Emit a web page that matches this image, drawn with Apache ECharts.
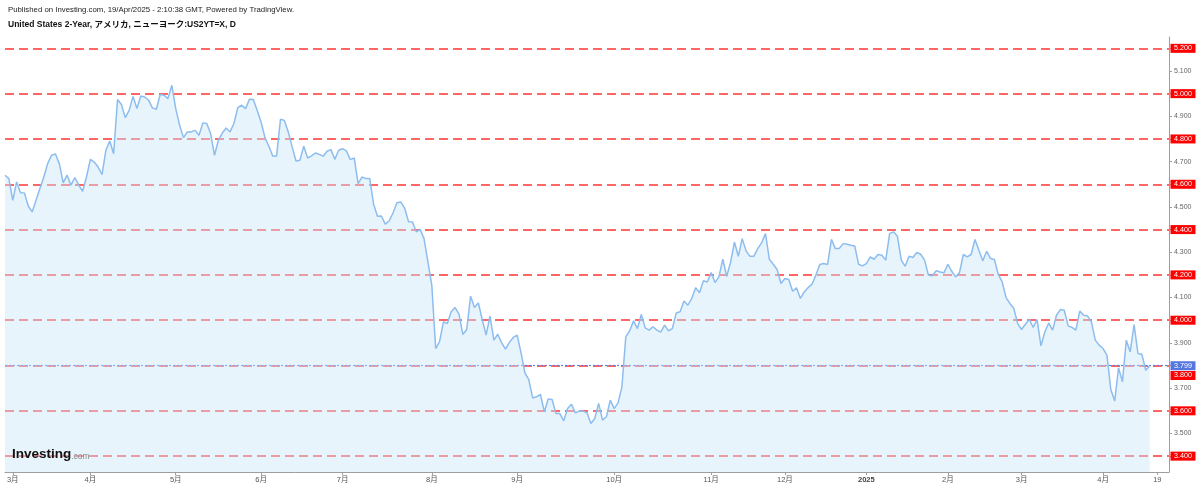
<!DOCTYPE html>
<html><head><meta charset="utf-8">
<script src="https://cdn.jsdelivr.net/npm/echarts@6/dist/echarts.min.js"></script>
<style>html,body{margin:0;padding:0;background:#fff}#c{width:1200px;height:487px}</style>
</head><body><div id="c"></div>
<script>
// Daily US 2-year yield (%)
const yields = [
4.640,4.625,4.529,4.610,4.563,4.562,4.504,4.478,4.529,4.581,
4.632,4.691,4.728,4.734,4.691,4.606,4.640,4.596,4.630,4.596,
4.569,4.632,4.710,4.698,4.676,4.643,4.750,4.791,4.735,4.974,
4.952,4.894,4.926,4.988,4.934,4.990,4.985,4.971,4.937,4.931,
4.996,4.993,4.978,5.037,4.934,4.860,4.806,4.831,4.831,4.838,
4.816,4.871,4.868,4.824,4.728,4.794,4.826,4.848,4.831,4.868,
4.938,4.949,4.934,4.975,4.974,4.926,4.875,4.806,4.768,4.725,
4.725,4.887,4.882,4.831,4.765,4.703,4.706,4.768,4.716,4.725,
4.738,4.732,4.724,4.746,4.753,4.710,4.750,4.757,4.747,4.709,
4.716,4.603,4.632,4.625,4.625,4.512,4.459,4.460,4.424,4.438,
4.473,4.518,4.522,4.495,4.435,4.434,4.390,4.401,4.360,4.257,
4.155,3.875,3.905,3.993,3.985,4.037,4.056,4.027,3.937,3.959,
4.106,4.056,4.076,4.003,3.934,4.018,3.912,3.938,3.900,3.872,
3.902,3.924,3.934,3.856,3.768,3.738,3.657,3.662,3.672,3.596,
3.652,3.650,3.588,3.588,3.556,3.610,3.629,3.591,3.599,3.599,
3.591,3.544,3.566,3.633,3.559,3.574,3.647,3.610,3.635,3.706,
3.927,3.953,3.997,3.963,4.025,3.966,3.956,3.971,3.956,3.947,
3.978,3.953,3.963,4.032,4.037,4.085,4.066,4.096,4.143,4.121,
4.174,4.169,4.210,4.166,4.191,4.269,4.194,4.255,4.345,4.282,
4.360,4.306,4.282,4.282,4.316,4.341,4.382,4.269,4.247,4.224,
4.162,4.184,4.180,4.128,4.143,4.096,4.125,4.144,4.159,4.199,
4.246,4.250,4.246,4.357,4.316,4.316,4.338,4.335,4.331,4.328,
4.247,4.240,4.250,4.279,4.269,4.290,4.287,4.265,4.382,4.390,
4.371,4.265,4.238,4.282,4.277,4.299,4.291,4.265,4.199,4.196,
4.218,4.213,4.209,4.247,4.216,4.191,4.210,4.290,4.279,4.290,
4.356,4.309,4.262,4.304,4.272,4.268,4.202,4.169,4.100,4.074,
4.052,3.985,3.959,3.982,4.004,3.968,4.003,3.887,3.948,3.988,
3.956,4.022,4.047,4.044,3.975,3.968,3.956,4.040,4.022,4.019,
3.993,3.912,3.890,3.875,3.846,3.694,3.643,3.790,3.728,3.912,
3.860,3.981,3.853,3.850,3.779,3.799
];
// x-axis tick labels and the bar index where each sits
const monthLabels = ['3月','4月','5月','6月','7月','8月','9月','10月','11月','12月','2025','2月','3月','4月','19'];
const monthIndex  = [2,22,44,66,87,110,132,157,182,201,222,243,262,283,297];
const categoryCount = 301;
// horizontal red levels
const levels = [3.4,3.6,3.8,4.0,4.2,4.4,4.6,4.8,5.0,5.2];
const lastPrice = 3.799;
// y-axis ticks / labels
const yTickValues = [3.4,3.5,3.6,3.7,3.8,3.9,4.0,4.1,4.2,4.3,4.4,4.5,4.6,4.7,4.8,4.9,5.0,5.1,5.2];
const yLabelValues = [3.5,3.7,3.9,4.1,4.3,4.5,4.7,4.9,5.1];

const categories = Array.from({length: categoryCount}, (_, i) => String(i));
const labelMap = new Map(monthIndex.map((idx, k) => [idx, monthLabels[k]]));
const lastCat = categories[categoryCount - 1];

const chart = echarts.init(document.getElementById('c'));
const FONT = '"Liberation Sans", Arial, "Noto Sans CJK JP", sans-serif';

chart.setOption({
  animation: false,
  backgroundColor: '#ffffff',
  grid: {left: 5, right: 31, top: 37, bottom: 15, containLabel: false},
  xAxis: {
    type: 'category', data: categories, boundaryGap: false,
    axisLine: {show: true, lineStyle: {color: '#9e9e9e', width: 1}},
    axisTick: {show: true, length: 3, interval: (i) => labelMap.has(i), lineStyle: {color: '#9e9e9e'}},
    axisLabel: {
      interval: (i) => labelMap.has(i),
      formatter: (v, i) => { const t = labelMap.get(Number(v)) || ''; return t === '2025' ? '{b|2025}' : t; },
      fontSize: 7.5, color: '#555', margin: 4, fontFamily: FONT,
      rich: {b: {fontSize: 7.5, fontWeight: 'bold', color: '#444', fontFamily: FONT}}
    },
    splitLine: {show: false}
  },
  yAxis: {
    type: 'value', position: 'right', min: 3.33, max: 5.25,
    axisLine: {show: true, lineStyle: {color: '#9e9e9e'}},
    axisTick: {show: true, length: 3, customValues: yTickValues, lineStyle: {color: '#9e9e9e'}},
    axisLabel: {customValues: yLabelValues, formatter: (v) => v.toFixed(3), fontSize: 7, color: '#666', margin: 5, fontFamily: FONT},
    splitLine: {show: false}
  },
  graphic: [
    {type: 'text', z: 100, left: 8, top: 6, style: {text: 'Published on Investing.com, 19/Apr/2025 - 2:10:38 GMT, Powered by TradingView.', font: '7.8px ' + FONT, fill: '#222'}},
    {type: 'text', z: 100, left: 8, top: 20, style: {text: 'United States 2-Year, アメリカ, ニューヨーク:US2YT=X, D', font: 'bold 8.5px ' + FONT, fill: '#111'}},
    {type: 'text', z: 100, left: 12, top: 448, style: {
      text: '{a|Investing}{b|.com}',
      rich: {
        a: {fontSize: 13.5, fontWeight: 'bold', fill: '#111', fontFamily: FONT, verticalAlign: 'bottom'},
        b: {fontSize: 8.5, fill: '#8a8a8a', fontFamily: FONT, verticalAlign: 'bottom', padding: [0, 0, 1, 0]}
      }}}
  ],
  series: [
    {
      name: 'levels', type: 'line', data: yields, z: 1, silent: true,
      showSymbol: false, symbol: 'none', lineStyle: {opacity: 0, width: 0},
      markLine: {
        z: 1, silent: true, symbol: ['none', 'none'], label: {show: false},
        data: levels.map(v => ({yAxis: v, lineStyle: {color: '#ff3535', width: 1.7, type: [9, 5]}}))
          .concat([{yAxis: lastPrice, lineStyle: {color: '#5b7fe6', width: 1.2, type: [2, 2]}}])
      }
    },
    {
      name: 'US2YT', type: 'line', data: yields, z: 2, symbol: 'none', showSymbol: false,
      lineStyle: {color: '#8cbdee', width: 1.5},
      areaStyle: {color: 'rgba(203,230,247,0.62)'}
    },
    {
      name: 'tags', type: 'line', data: [], z: 6, clip: false, silent: true,
      markPoint: {
        z: 6, silent: true,
        data: levels.map(v => ({
          coord: [lastCat, v], symbol: 'rect', symbolSize: [25, 9],
          symbolOffset: [14, v === 3.8 ? 10 : 0], itemStyle: {color: '#ff0000'},
          label: {show: true, position: 'inside', formatter: v.toFixed(3), color: '#fff', fontSize: 7.2, fontFamily: FONT}
        })).concat([{
          coord: [lastCat, lastPrice], symbol: 'rect', symbolSize: [25, 9],
          symbolOffset: [14, 0], itemStyle: {color: '#5476df'},
          label: {show: true, position: 'inside', formatter: lastPrice.toFixed(3), color: '#fff', fontSize: 7.2, fontFamily: FONT}
        }])
      }
    }
  ]
});
</script></body></html>
